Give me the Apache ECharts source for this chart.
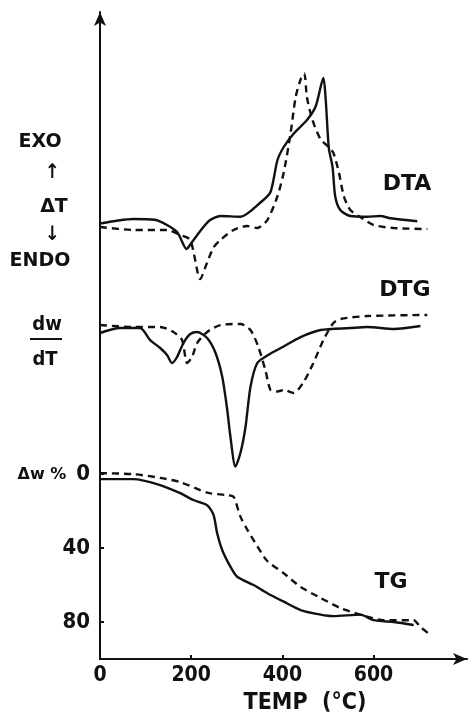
<!DOCTYPE html>
<html>
<head>
<meta charset="utf-8">
<script src="https://cdn.jsdelivr.net/npm/echarts@6/dist/echarts.min.js"></script>
<style>
  html, body { margin: 0; padding: 0; background: #fff; }
  #chart { width: 471px; height: 716px; }
</style>
</head>
<body>
<div id="chart"></div>
<script>
// temperature ticks (°C)
const tempTicks = [0, 200, 400, 600];
const tgTicks = [0, 40, 80];

// DTA (arbitrary ΔT units), [temp, value]
const dtaSolid = [
  [0, -1], [40, 1], [73, 2], [120, 1.5], [147, -2], [170, -7], [190, -18], [198, -15],
  [220, -6], [240, 1], [264, 4], [308, 3.5], [352, 13], [374, 20], [389, 41], [403, 50],
  [425, 59], [454, 68], [473, 77], [490, 96], [495, 82], [502, 49], [510, 37], [516, 17],
  [527, 8], [549, 4], [586, 3.5], [615, 4], [637, 2.5], [696, 0.5]
];
const dtaDashed = [
  [0, -3.3], [73, -5.3], [147, -5.3], [176, -8.7], [198, -12], [220, -38], [235, -27],
  [249, -17], [264, -12], [293, -5.3], [323, -2.7], [345, -4], [367, 1.3], [389, 17],
  [403, 33], [418, 59], [429, 83], [440, 95], [448, 99], [454, 83], [466, 68], [484, 55],
  [502, 50], [512, 46], [524, 33], [535, 17], [549, 8], [571, 3.3], [600, -2], [644, -4],
  [718, -4.7]
];

// DTG (arbitrary dw/dT units)
const dtgSolid = [
  [0, -2], [44, 1.3], [88, 1.3], [110, -6.7], [132, -12], [147, -16.7], [158, -22],
  [169, -18], [183, -8.7], [198, -2.7], [213, -1.3], [235, -5.3], [253, -15], [268, -31],
  [279, -53], [286, -71], [297, -91], [308, -82], [319, -65], [330, -38], [345, -22],
  [367, -17], [403, -11], [440, -4.7], [484, 0], [549, 1.3], [586, 2], [645, 0.7], [703, 2.7]
];
const dtgDashed = [
  [0, 3.3], [73, 2], [132, 2], [161, -1.3], [180, -6.7], [191, -22], [202, -18],
  [213, -8.7], [235, -1.3], [264, 3.3], [308, 4], [330, 0], [347, -11], [363, -27],
  [374, -40], [389, -41], [403, -40], [425, -42], [446, -35], [468, -22], [490, -6.7],
  [512, 4.7], [527, 7.3], [586, 9.3], [718, 10]
];

// TG weight loss Δw %
const tgSolid = [
  [0, 2.7], [73, 2.7], [132, 5.9], [176, 10.3], [205, 14], [235, 16.8], [249, 22],
  [257, 32], [268, 41], [286, 50], [301, 55.5], [337, 60], [367, 64.4], [403, 69],
  [440, 73.5], [484, 76], [512, 76.8], [571, 76], [600, 79], [645, 80], [688, 81.6]
];
const tgDashed = [
  [0, -0.5], [73, 0], [132, 2], [176, 4.3], [235, 10], [279, 11.4], [293, 12.3],
  [308, 23], [323, 30], [345, 39], [367, 47], [403, 53.6], [440, 61], [484, 67],
  [527, 72.4], [571, 76], [622, 79], [688, 79], [703, 82.7], [725, 87]
];

const ink = '#111';
const cond = 'DejaVu Sans Condensed';
const wide = 'DejaVu Sans';
const chart = echarts.init(document.getElementById('chart'));

const hiddenX = (gi) => ({
  type: 'value', gridIndex: gi, min: 0, max: 805, show: false
});

const line = (name, data, xi, yi, dashed) => ({
  name, type: 'line', xAxisIndex: xi, yAxisIndex: yi, data,
  smooth: 0.25, symbol: 'none', silent: true,
  lineStyle: { color: ink, width: 2.4, type: dashed ? [7, 5] : 'solid' }
});

// text placed by its centre
const label = (text, x, y, size, family) => ({
  type: 'text', x, y,
  style: {
    text, fill: ink, align: 'center', verticalAlign: 'middle',
    fontSize: size, fontFamily: family || cond, fontWeight: 'bold'
  }
});

const tickText = { color: ink, fontFamily: cond, fontWeight: 'bold' };

chart.setOption({
  animation: false,
  grid: [
    { left: 100, right: 4, top: 12, bottom: 57 },
    { left: 100, right: 4, top: 72, height: 225 },
    { left: 100, right: 4, top: 300, height: 180 }
  ],
  xAxis: [
    {
      type: 'value', gridIndex: 0, min: 0, max: 805,
      splitLine: { show: false },
      axisLine: { onZero: false, lineStyle: { color: ink, width: 2 }, symbol: ['none', 'arrow'], symbolSize: [9, 14] },
      axisTick: { inside: true, length: 4, lineStyle: { color: ink, width: 2 }, customValues: [200, 400, 600] },
      axisLabel: Object.assign({ customValues: tempTicks, margin: 6, fontSize: 21 }, tickText)
    },
    hiddenX(1),
    hiddenX(2)
  ],
  yAxis: [
    {
      type: 'value', gridIndex: 0, min: -250, max: 100, inverse: true,
      splitLine: { show: false },
      axisLine: { onZero: false, lineStyle: { color: ink, width: 2 }, symbol: ['none', 'arrow'], symbolSize: [9, 14] },
      axisTick: { inside: true, length: 4, lineStyle: { color: ink, width: 2 }, customValues: tgTicks },
      axisLabel: Object.assign({ customValues: tgTicks, margin: 10, fontSize: 22 }, tickText)
    },
    { type: 'value', gridIndex: 1, min: -50, max: 100, show: false },
    { type: 'value', gridIndex: 2, min: -100, max: 20, show: false }
  ],
  series: [
    line('DTA', dtaSolid, 1, 1, false),
    line('DTA dashed', dtaDashed, 1, 1, true),
    line('DTG', dtgSolid, 2, 2, false),
    line('DTG dashed', dtgDashed, 2, 2, true),
    line('TG', tgSolid, 0, 0, false),
    line('TG dashed', tgDashed, 0, 0, true)
  ],
  graphic: [
    label('EXO', 40, 142, 19, wide),
    label('↑', 52, 173, 20),
    label('ΔT', 54, 207, 19, wide),
    label('↓', 52, 235, 20),
    label('ENDO', 40, 261, 19, wide),
    label('DTA', 407, 184, 22, wide),
    label('DTG', 405, 290, 22, wide),
    label('dw', 47, 325, 20),
    { type: 'line', shape: { x1: 30, y1: 339, x2: 62, y2: 339 }, style: { stroke: ink, lineWidth: 2 } },
    label('dT', 45, 360, 20),
    label('Δw %', 42, 475, 16, wide),
    label('TG', 391, 582, 22, wide),
    label('TEMP  (°C)', 305, 703, 23)
  ]
});
</script>
</body>
</html>
